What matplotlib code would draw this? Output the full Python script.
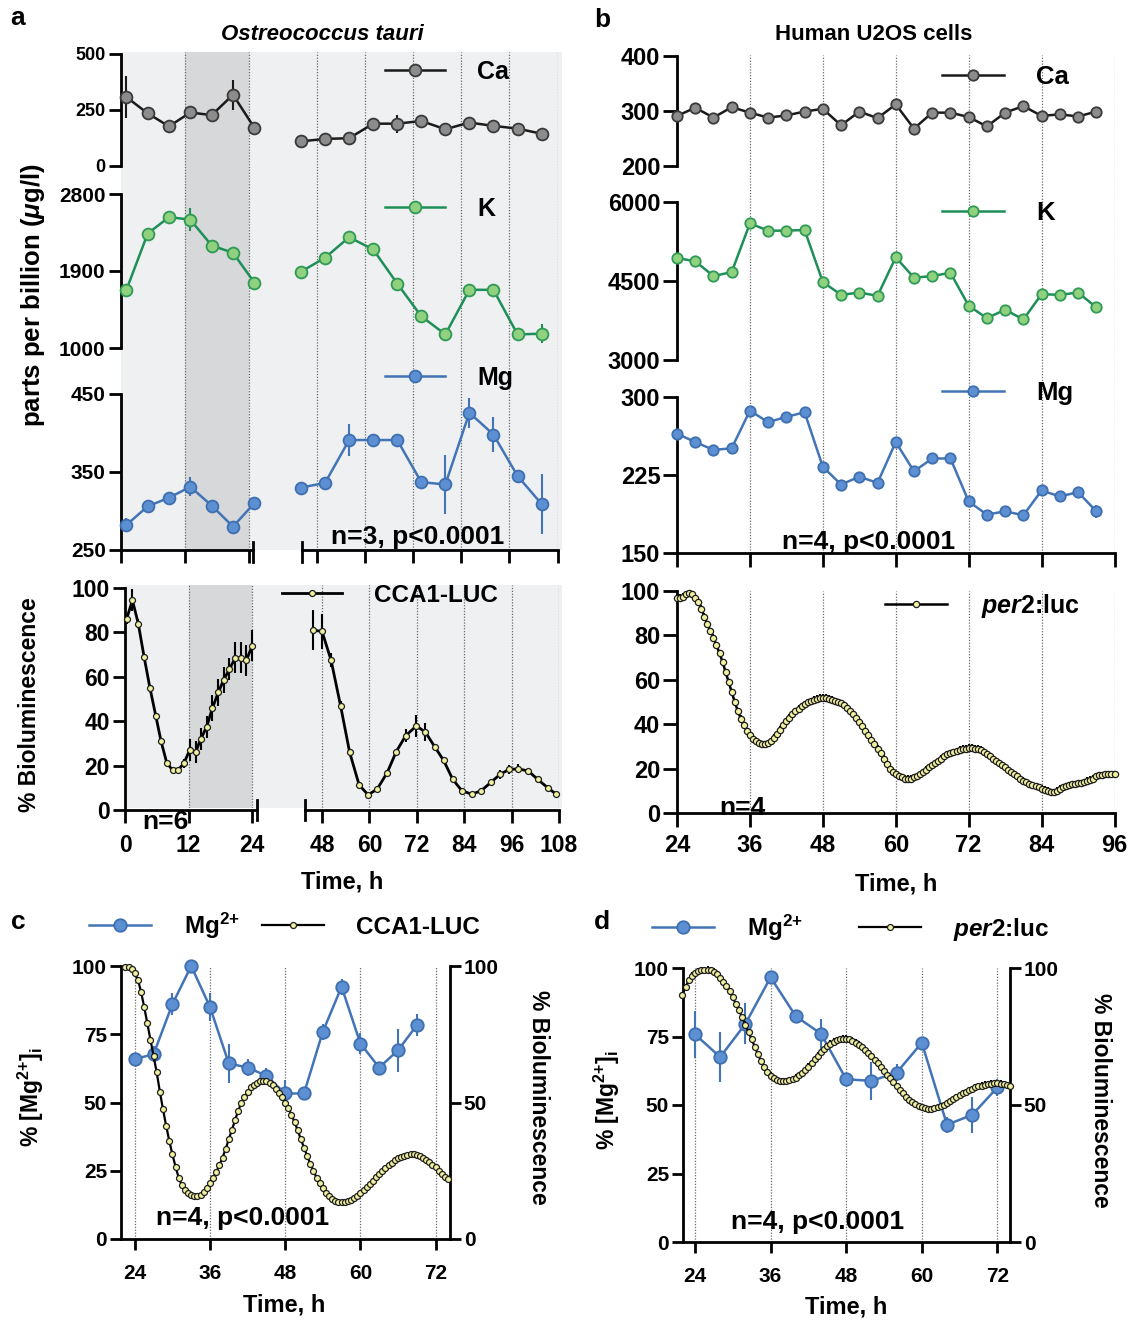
import numpy as np
import matplotlib
matplotlib.use('Agg')
import matplotlib.pyplot as plt
from matplotlib.lines import Line2D

plt.rcParams['font.family'] = ['Liberation Sans', 'DejaVu Sans']
plt.rcParams['font.weight'] = 'bold'
plt.rcParams['mathtext.fontset'] = 'custom'
plt.rcParams['mathtext.rm'] = 'Liberation Sans:bold'
plt.rcParams['mathtext.bf'] = 'Liberation Sans:bold'
plt.rcParams['mathtext.sf'] = 'Liberation Sans:bold'
plt.rcParams['mathtext.it'] = 'Liberation Sans:italic:bold'

# ---------------- panel a: O. tauri, ICP-MS (ppb) ----------------
a_t_left = [1, 5, 9, 13, 17, 21, 25]
a_t_right = [44, 50, 56, 62, 68, 74, 80, 86, 92, 98, 104]
a_ca_left = [308, 235, 177, 239, 227, 318, 171]
a_ca_left_err = [95, 8, 8, 15, 8, 68, 8]
a_ca_right = [110, 121, 124, 189, 189, 201, 164, 194, 179, 167, 144]
a_ca_right_err = [6, 6, 6, 8, 40, 8, 6, 8, 6, 6, 6]
a_k_left = [1677, 2337, 2530, 2500, 2198, 2113, 1765]
a_k_left_err = [60, 30, 30, 135, 30, 30, 30]
a_k_right = [1892, 2055, 2295, 2152, 1753, 1371, 1159, 1680, 1680, 1159, 1167]
a_k_right_err = [25, 25, 25, 25, 25, 70, 25, 25, 25, 25, 110]
a_mg_left = [282, 306, 317, 331, 307, 280, 310]
a_mg_left_err = [9, 3, 3, 12, 3, 3, 3]
a_mg_right = [330, 336, 391, 391, 391, 337, 334, 426, 398, 345, 309]
a_mg_right_err = [3, 8, 21, 3, 3, 3, 38, 19, 23, 3, 38]

# CCA1-LUC bioluminescence (%)
a_luc_t_left = [0.3, 1.4, 2.5, 3.6, 4.7, 5.8, 6.8, 7.9, 9.0, 10.0, 11.1, 12.2,
                13.3, 14.3, 15.4, 16.5, 17.6, 18.6, 19.7, 20.8, 21.8, 22.9, 24.0]
a_luc_left = [86, 94.5, 84, 69, 55, 42.5, 31, 21, 18, 18, 21, 27,
              26, 32, 37.5, 46, 53, 58.5, 63.5, 68.5, 68.5, 67.5, 74]
a_luc_left_err = [2, 5, 2, 1, 1, 1, 1, 1, 1, 1, 2, 5, 5, 5, 5, 6, 6, 6, 5, 7, 7, 7, 7]
a_luc_t_right = [45.6, 48.0, 50.3, 52.7, 55.0, 57.4, 59.7, 62.0, 64.5, 66.8, 69.2,
                 71.9, 74.2, 76.5, 78.8, 81.1, 83.4, 85.9, 88.3, 90.8, 93.1, 95.4,
                 97.7, 100.2, 102.6, 105.1, 107.3]
a_luc_right = [81, 80.5, 67.5, 47, 26, 11.3, 6.8, 9.5, 16.8, 26.3, 33.5,
               37.9, 35, 28.6, 22.3, 13.8, 8.7, 7.1, 8.7, 12.5, 16.1, 18.3,
               18.5, 17.6, 13.8, 10.1, 7.1]
a_luc_right_err = [9, 8, 3, 2, 1, 1, 1, 1, 1, 1, 3, 5, 4, 1, 1, 1, 1, 1, 1, 1, 2, 2, 2, 1, 1, 1, 1]

# ---------------- panel b: human U2OS ----------------
b_t = [24, 27, 30, 33, 36, 39, 42, 45, 48, 51, 54, 57,
       60, 63, 66, 69, 72, 75, 78, 81, 84, 87, 90, 93]
b_ca = [291, 306, 288, 307, 297, 288, 292, 299, 304, 274, 299, 287,
        312, 268, 297, 297, 289, 272, 297, 309, 291, 294, 290, 299]
b_ca_err = [10, 3, 3, 3, 3, 3, 3, 3, 3, 3, 3, 3, 3, 3, 3, 3, 3, 3, 3, 3, 3, 3, 3, 3]
b_k = [4937, 4875, 4594, 4669, 5594, 5456, 5456, 5469, 4481, 4237, 4281, 4219,
       4950, 4562, 4594, 4656, 4031, 3794, 3956, 3769, 4250, 4237, 4281, 4000]
b_k_err = [40, 40, 40, 40, 40, 40, 40, 40, 40, 40, 40, 40,
           40, 40, 40, 40, 40, 40, 40, 40, 40, 40, 40, 110]
b_mg = [264.7, 256.7, 249.1, 250.7, 286.9, 275.8, 280.9, 285.3, 232.9, 215.8, 223.4, 217.4,
        256.7, 228.5, 240.9, 240.9, 199.6, 186.9, 190.1, 186.3, 210.1, 204.4, 208.5, 190.1]
b_mg_err = [2, 4, 2, 2, 2, 2, 2, 2, 2, 2, 2, 2, 2, 2, 2, 2, 2, 2, 3, 2, 2, 2, 2, 6]

# per2:luc bioluminescence (%), sampled every 0.5 h from 24 h
b_per2 = [97, 97, 97.5, 98.5, 99, 98.5, 97, 95, 92, 88.5,
          85, 82, 79, 75.5, 72, 68, 63.5, 59, 54.5, 50,
          46, 42.5, 39.5, 37, 35, 33.5, 32.5, 31.5, 31, 31,
          31.5, 32.5, 34, 35.5, 37.5, 39.5, 41.5, 43, 44.5, 46,
          47, 48, 49, 50, 50.5, 51, 51.5, 52, 52, 52,
          51.5, 51, 50.5, 50, 49.5, 48.5, 47.5, 46, 44.5, 43,
          41, 39, 37, 35, 33, 31, 29, 27, 24.5, 22,
          20, 18.5, 17.5, 16.5, 16, 15.5, 15.5, 15.5, 16, 16.5,
          17.5, 18.5, 19.5, 20.5, 21.5, 22.5, 23.5, 24.5, 25.5, 26.5,
          27, 27.5, 28, 28.5, 29, 29, 29.5, 29.5, 29, 29,
          28.5, 27.5, 26.5, 25.5, 24.5, 23.5, 22.5, 21.5, 20.5, 19.5,
          18.5, 17.5, 16.5, 15.5, 14.5, 14, 13, 12.5, 12, 11.5,
          11, 10.5, 10, 9.5, 9.5, 10, 11, 11.5, 12, 12.5,
          13, 13, 13.5, 13.5, 14, 14.5, 15, 15.5, 16.5, 17,
          17, 17.5, 17.5, 17.5, 17.5]
b_per2_sem = 1.5
b_per2_t = 24 + 0.5 * np.arange(len(b_per2))

# ---------------- panel c: O. tauri Mg2+ vs CCA1-LUC ----------------
c_mg_t = [24, 27, 30, 33, 36, 39, 42, 45, 48, 51, 54, 57, 60, 63, 66, 69]
c_mg = [65.9, 67.7, 86, 100, 85, 64.3, 62.8, 59.8, 53.3, 53.3, 75.9, 92.4, 71.6, 62.8, 69.1, 78.3]
c_mg_err = [2, 3, 4, 2, 5, 7, 3, 3, 5, 2, 3, 3, 4, 2, 8, 4]
c_luc = [99.8, 99.6, 98.8, 97.5, 95, 90.5, 85, 79, 73, 67,
         61, 54, 47.5, 41.5, 36, 31, 26.5, 22.5, 19.8, 18,
         16.8, 16, 15.6, 15.6, 16.2, 17.2, 18.7, 20.5, 22.5, 24.5,
         27, 29.8, 33, 36.5, 40, 43.5, 47, 49.8, 52, 54,
         55.5, 56.5, 57.3, 57.8, 58, 57.8, 57.3, 56.3, 55, 53.5,
         52, 50, 48, 45.5, 42.8, 39.8, 36.5, 33.5, 30.5, 27.5,
         25, 22.5, 20.5, 18.5, 17, 15.8, 14.8, 14, 13.6, 13.4,
         13.5, 13.8, 14.3, 15, 15.8, 16.8, 17.8, 19, 20.2, 21.4,
         22.6, 23.8, 25, 26, 27, 28, 28.8, 29.5, 30, 30.5,
         30.8, 31, 31, 30.8, 30.4, 29.8, 29, 28.2, 27.2, 26.2,
         25, 23.8, 22.8, 21.8]
c_luc_t = 22.5 + 0.5 * np.arange(len(c_luc))

# ---------------- panel d: U2OS Mg2+ vs per2:luc ----------------
d_mg_t = [24, 28, 32, 36, 40, 44, 48, 52, 56, 60, 64, 68, 72]
d_mg = [75.8, 67.5, 79.6, 96.6, 82.4, 76, 59.4, 58.8, 61.8, 72.7, 42.8, 46.4, 56.4]
d_mg_err = [8.5, 9, 7.5, 2, 2, 5.5, 2, 7, 3, 2, 3, 6.5, 3]
d_luc = [90, 93, 95.5, 97.2, 98.2, 98.8, 99.1, 99.3, 99.4, 99.2,
         98.7, 97.8, 96.5, 95, 93.5, 91.5, 89.3, 86.8, 84.5, 82,
         79.3, 76.6, 74, 71.2, 68.5, 66, 63.8, 62, 60.7, 59.8,
         59.2, 58.8, 58.7, 58.8, 59, 59.4, 60, 60.8, 61.7, 62.7,
         64, 65.3, 66.7, 68, 69.3, 70.5, 71.5, 72.4, 73.1, 73.7,
         74, 74.2, 74.2, 74, 73.5, 72.8, 72, 71.1, 70.1, 69,
         67.8, 66.5, 65.2, 63.9, 62.5, 61.1, 59.7, 58.3, 56.9, 55.5,
         54.2, 53, 52, 51.1, 50.3, 49.7, 49.2, 48.8, 48.6, 48.6,
         48.8, 49.1, 49.5, 50, 50.7, 51.4, 52.1, 52.8, 53.5, 54.2,
         54.8, 55.4, 55.9, 56.4, 56.8, 57.1, 57.4, 57.6, 57.8, 57.9,
         57.9, 57.8, 57.6, 57.3, 57]
d_luc_t = 22.0 + 0.5 * np.arange(len(d_luc))

# colours: (marker face, marker edge, line)
ca_col = ('#8c8c8c', '#3a3a3a', '#1a1a1a')
k_col = ('#8fd17e', '#2f9a55', '#1e8f58')
mg_col = ('#5d8fd3', '#3e6fb0', '#4274b6')
luc_col = ('#f1f1a2', '#1e1e1e', '#000000')
light = '#eef0f2'
dark = '#d6d8da'

W, H = 1131, 1321
fig = plt.figure(figsize=(W / 100, H / 100), dpi=100)


def add_ax(x0, y0, x1, y1):
    ax = fig.add_axes([x0 / W, 1 - y1 / H, (x1 - x0) / W, (y1 - y0) / H])
    ax.set_facecolor('none')
    for s in ax.spines.values():
        s.set_visible(False)
        s.set_linewidth(2)
    ax.tick_params(width=2, length=9, direction='out', pad=2,
                   left=False, bottom=False, labelleft=False, labelbottom=False)
    return ax


def ftext(x, y, s, **kw):
    kw.setdefault('ha', 'center')
    kw.setdefault('va', 'center')
    return fig.text(x / W, 1 - y / H, s, **kw)


def show_y(ax, ticks, size, length=9):
    ax.spines['left'].set_visible(True)
    ax.set_yticks(ticks)
    ax.tick_params(axis='y', left=True, labelleft=True, labelsize=size, length=length)


def show_x(ax, ticks, size=None, length=9, pad=2):
    ax.spines['bottom'].set_visible(True)
    ax.set_xticks(ticks)
    ax.tick_params(axis='x', bottom=True, labelbottom=size is not None,
                   labelsize=size or 10, length=length, pad=pad)


def series(ax, t, v, err, col, ms, lw=1.8, mew=1.3):
    face, edge, line = col
    cont = ax.errorbar(t, v, yerr=err, fmt='-o', color=line, mfc=face, mec=edge,
                       mew=mew, ms=ms, lw=lw, ecolor=line, elinewidth=1.5,
                       capsize=0, zorder=3)
    cont.lines[0].set_clip_on(False)
    for b in cont.lines[2]:
        b.set_clip_on(False)


def vlines(ax, ts):
    for t in ts:
        ax.axvline(t, color='#6a6a6a', lw=0.9, ls=(0, (1, 1.3)), zorder=1)


def handle(col, ms, lw=1.8, mew=1.3):
    face, edge, line = col
    return Line2D([], [], color=line, marker='o', mfc=face, mec=edge, ms=ms, lw=lw, mew=mew)


def legend_at(x, y, handles, labels, fs, hl, tp, ncol=1, cs=1.0):
    fig.legend(handles, labels, loc='center left', bbox_to_anchor=(x / W, 1 - y / H),
               bbox_transform=fig.transFigure, frameon=False, fontsize=fs,
               handlelength=hl, handletextpad=tp, borderpad=0, borderaxespad=0,
               ncol=ncol, columnspacing=cs)


MG2 = 'Mg$^{2{+}}$'

# ======================= panel a, top (ICP-MS) =======================
bg = add_ax(121, 52, 562, 550)
bg.set_facecolor(light)
ov = add_ax(121, 52, 253, 550)
ov.set_xlim(0, 24.75)
ov.axvspan(12, 24, color=dark, lw=0)
vlines(ov, [12, 24])
ov = add_ax(302, 52, 558, 550)
ov.set_xlim(44.25, 108.1)
vlines(ov, [48, 60, 72, 84, 96, 108])

a_rows = [
    (54, 166, (0, 500), [0, 250, 500], 13, a_ca_left, a_ca_left_err, a_ca_right, a_ca_right_err, ca_col),
    (194, 348, (1000, 2800), [1000, 1900, 2800], 15, a_k_left, a_k_left_err, a_k_right, a_k_right_err, k_col),
    (394, 550, (250, 450), [250, 350, 450], 15, a_mg_left, a_mg_left_err, a_mg_right, a_mg_right_err, mg_col),
]
for i, (y0, y1, ylim, yt, fs, vl, el, vr, er, col) in enumerate(a_rows):
    axl = add_ax(121, y0, 253, y1)
    axl.set_xlim(0, 24.75)
    axl.set_ylim(*ylim)
    show_y(axl, yt, fs)
    axr = add_ax(302, y0, 558, y1)
    axr.set_xlim(44.25, 108.1)
    axr.set_ylim(*ylim)
    series(axl, a_t_left, vl, el, col, ms=8.5)
    series(axr, a_t_right, vr, er, col, ms=8.5)
    if i == 2:
        show_x(axl, [0, 12, 24])
        show_x(axr, [48, 60, 72, 84, 96, 108])
        axl.plot([1, 1], [-0.08, 0.05], transform=axl.transAxes, color='k', lw=2, clip_on=False)
        axr.plot([0, 0], [-0.08, 0.05], transform=axr.transAxes, color='k', lw=2, clip_on=False)

legend_at(385, 72, [handle(ca_col, 8.5)], ['Ca'], 18, 2.4, 1.3)
legend_at(385, 209, [handle(k_col, 8.5)], ['K'], 18, 2.4, 1.3)
legend_at(385, 378, [handle(mg_col, 8.5)], ['Mg'], 18, 2.4, 1.3)
ftext(418, 537, 'n=3, p<0.0001', fontsize=19)
ftext(33, 295, 'parts per billion ($\\mathit{\\mu}$g/l)', fontsize=18.5, rotation=90)

# ======================= panel a, bottom (CCA1-LUC) =======================
bg = add_ax(125, 585, 562, 808)
bg.set_facecolor(light)
ov = add_ax(125, 585, 257, 808)
ov.set_xlim(0, 24.9)
ov.axvspan(12, 24, color=dark, lw=0)
vlines(ov, [12, 24])
ov = add_ax(305, 585, 559, 810)
ov.set_xlim(43.7, 108)
vlines(ov, [48, 60, 72, 84, 96, 108])

bl = add_ax(125, 588, 257, 810)
bl.set_xlim(0, 24.9)
bl.set_ylim(0, 100)
show_y(bl, [0, 20, 40, 60, 80, 100], 16.5)
show_x(bl, [0, 12, 24], 16.5, pad=8)
br = add_ax(305, 588, 559, 810)
br.set_xlim(43.7, 108)
br.set_ylim(0, 100)
show_x(br, [48, 60, 72, 84, 96, 108], 16.5, pad=8)
bl.plot([1, 1], [-0.045, 0.045], transform=bl.transAxes, color='k', lw=2, clip_on=False)
br.plot([0, 0], [-0.045, 0.045], transform=br.transAxes, color='k', lw=2, clip_on=False)
series(bl, a_luc_t_left, a_luc_left, a_luc_left_err, luc_col, ms=4.3, lw=2, mew=0.9)
series(br, a_luc_t_right, a_luc_right, a_luc_right_err, luc_col, ms=4.3, lw=2, mew=0.9)
legend_at(282, 595, [handle(luc_col, 4.3, 2, 0.9)], ['CCA1-LUC'], 17.5, 2.45, 1.35)
ftext(165, 822, 'n=6', fontsize=19)
ftext(30, 705, '% Bioluminescence', fontsize=16.5, rotation=90)
ftext(342, 882, 'Time, h', fontsize=17)

# ======================= panel b, top (ICP-MS) =======================
ov = add_ax(677, 55, 1114.5, 553)
ov.set_xlim(24, 96)
vlines(ov, [36, 48, 60, 72, 84, 96])
b_rows = [
    (56, 166, (200, 400), [200, 300, 400], b_ca, b_ca_err, ca_col),
    (202, 360, (3000, 6000), [3000, 4500, 6000], b_k, b_k_err, k_col),
    (397, 553, (150, 300), [150, 225, 300], b_mg, b_mg_err, mg_col),
]
for i, (y0, y1, ylim, yt, vals, errs, col) in enumerate(b_rows):
    ax = add_ax(677, y0, 1114.5, y1)
    ax.set_xlim(24, 96)
    ax.set_ylim(*ylim)
    show_y(ax, yt, 17, length=10)
    series(ax, b_t, vals, errs, col, ms=7.5)
    if i == 2:
        show_x(ax, [24, 36, 48, 60, 72, 84, 96], length=10)

legend_at(942, 77, [handle(ca_col, 7.5)], ['Ca'], 18.5, 2.4, 1.25)
legend_at(942, 213, [handle(k_col, 7.5)], ['K'], 18.5, 2.4, 1.25)
legend_at(942, 393, [handle(mg_col, 7.5)], ['Mg'], 18.5, 2.4, 1.25)
ftext(869, 542, 'n=4, p<0.0001', fontsize=19)

# ======================= panel b, bottom (per2:luc) =======================
ax = add_ax(677, 591, 1114.5, 813)
ax.set_xlim(24, 96)
ax.set_ylim(0, 100)
show_y(ax, [0, 20, 40, 60, 80, 100], 17, length=10)
show_x(ax, [24, 36, 48, 60, 72, 84, 96], 17, length=10, pad=5)
vlines(ax, [36, 48, 60, 72, 84, 96])
series(ax, b_per2_t, b_per2, b_per2_sem, luc_col, ms=4.5, lw=1.8, mew=0.9)
legend_at(885, 606, [handle(luc_col, 4.5, 1.8, 0.9)], ['$\\mathit{per2}$:luc'], 18, 2.5, 1.35)
ftext(742, 808, 'n=4', fontsize=19)
ftext(896, 884, 'Time, h', fontsize=17)

# ======================= panels c and d =======================
cd = [
    (121, 966, 450, 1239, (21.8, 74.3), c_mg_t, c_mg, c_mg_err, c_luc_t, c_luc, None,
     (31, 1097), (538, 1097), (243, 1218), (284, 1305)),
    (683, 968, 1010, 1242, (22.1, 74.0), d_mg_t, d_mg, d_mg_err, d_luc_t, d_luc, 1.2,
     (607, 1100), (1101, 1100), (818, 1222), (846, 1307)),
]
for (x0, y0, x1, y1, xl, mt, mv, me, lt, lv, le, lpos, rpos, npos, tpos) in cd:
    ax = add_ax(x0, y0, x1, y1)
    ax.set_xlim(*xl)
    ax.set_ylim(0, 100)
    show_y(ax, [0, 25, 50, 75, 100], 15, length=8)
    show_x(ax, [24, 36, 48, 60, 72], 15, length=8, pad=10)
    vlines(ax, [24, 36, 48, 60, 72])
    series(ax, mt, mv, me, mg_col, ms=9)
    ax2 = add_ax(x0, y0, x1, y1)
    ax2.set_xlim(*xl)
    ax2.set_ylim(0, 100)
    ax2.spines['right'].set_visible(True)
    ax2.yaxis.tick_right()
    ax2.set_yticks([0, 50, 100])
    ax2.tick_params(axis='y', right=True, labelright=True, left=False, labelleft=False,
                    labelsize=15, length=8)
    if le is None:
        ax2.plot(lt, lv, '-o', color='k', mfc=luc_col[0], mec=luc_col[1], ms=4.3,
                 mew=0.9, lw=1.6, clip_on=False, zorder=4)
    else:
        series(ax2, lt, lv, le, luc_col, ms=4.3, lw=1.6, mew=0.9)
    ftext(*lpos, '% [' + MG2 + ']$_\\mathrm{i}$', fontsize=16.5, rotation=90)
    ftext(*rpos, '% Bioluminescence', fontsize=16.5, rotation=270)
    ftext(*npos, 'n=4, p<0.0001', fontsize=19)
    ftext(*tpos, 'Time, h', fontsize=17)

legend_at(89, 926, [handle(mg_col, 9), handle(luc_col, 4.3, 1.6, 0.9)],
          [MG2, 'CCA1-LUC'], 17.5, 2.55, 1.35, ncol=2, cs=0.9)
legend_at(652, 928, [handle(mg_col, 9), handle(luc_col, 4.3, 1.6, 0.9)],
          [MG2, '$\\mathit{per2}$:luc'], 17.5, 2.55, 1.35, ncol=2, cs=2.3)

# titles and panel letters
ftext(322, 35, 'Ostreococcus tauri', fontsize=16, style='italic')
ftext(874, 35, 'Human U2OS cells', fontsize=16)
ftext(18, 18, 'a', fontsize=19)
ftext(602, 20, 'b', fontsize=19)
ftext(18, 922, 'c', fontsize=19)
ftext(602, 922, 'd', fontsize=19)

fig.savefig('out.png', dpi=100)
